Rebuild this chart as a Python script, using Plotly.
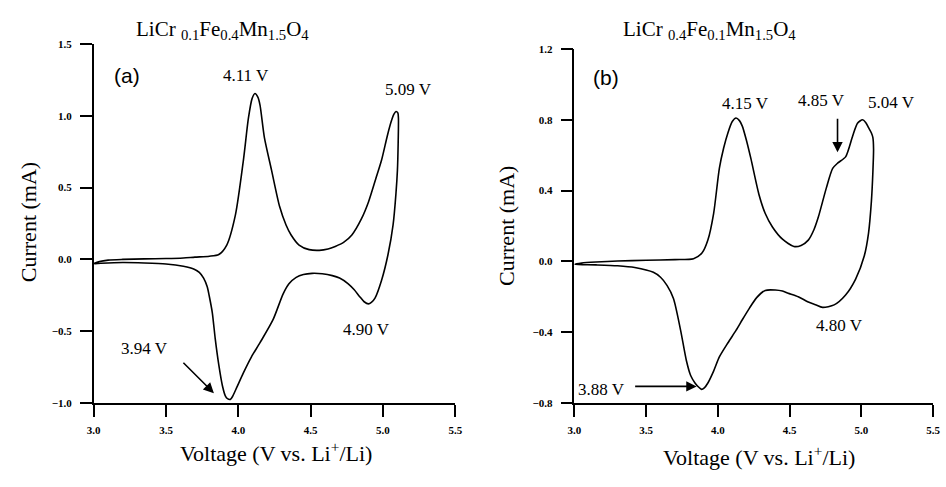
import plotly.graph_objects as go

# Panel (a): LiCr0.1Fe0.4Mn1.5O4 (closed CV loop: anodic sweep then cathodic sweep)
va = [3.00, 3.04, 3.10, 3.20, 3.35, 3.50, 3.62, 3.70, 3.80, 3.865, 3.92, 3.98, 4.035, 4.07, 4.095, 4.115, 4.135, 4.15,
      4.18, 4.23, 4.285, 4.33, 4.365, 4.42, 4.49, 4.56, 4.62, 4.67, 4.73, 4.785, 4.85, 4.90, 4.95, 4.99, 5.03, 5.057,
      5.075, 5.09, 5.103, 5.107,
      5.105, 5.10, 5.09, 5.07, 5.035, 4.99, 4.945, 4.92, 4.90, 4.87, 4.84, 4.80, 4.76, 4.70, 4.65, 4.58, 4.51, 4.45,
      4.40, 4.35, 4.31, 4.24, 4.15, 4.09, 4.035, 3.99, 3.96, 3.945, 3.925, 3.91, 3.89, 3.865, 3.84, 3.82, 3.80, 3.785,
      3.76, 3.73, 3.695, 3.62, 3.50, 3.35, 3.20, 3.05, 3.00]
ia = [-0.03, -0.015, -0.005, 0.000, 0.004, 0.006, 0.010, 0.016, 0.022, 0.034, 0.10, 0.31, 0.69, 0.985, 1.12, 1.155, 1.13, 1.075,
      0.85, 0.62, 0.37, 0.24, 0.17, 0.10, 0.068, 0.063, 0.072, 0.09, 0.12, 0.17, 0.28, 0.40, 0.56, 0.69, 0.86, 0.96,
      1.01, 1.03, 1.02, 0.985,
      0.80, 0.62, 0.46, 0.24, 0.034, -0.147, -0.27, -0.30, -0.31, -0.295, -0.26, -0.21, -0.17, -0.13, -0.113, -0.10, -0.097, -0.105,
      -0.125, -0.17, -0.24, -0.42, -0.58, -0.68, -0.79, -0.89, -0.955, -0.975, -0.97, -0.95, -0.88, -0.735, -0.55, -0.37, -0.26, -0.19,
      -0.13, -0.09, -0.068, -0.048, -0.032, -0.025, -0.022, -0.027, -0.03]

# Panel (b): LiCr0.4Fe0.1Mn1.5O4
vb = [3.00, 3.05, 3.15, 3.30, 3.50, 3.70, 3.83, 3.89, 3.93, 3.97, 4.01, 4.04, 4.07, 4.10, 4.126, 4.15, 4.17, 4.20, 4.23,
      4.286, 4.33, 4.38, 4.45, 4.53, 4.58, 4.63, 4.67, 4.70, 4.756, 4.80, 4.836, 4.89, 4.94, 4.973, 5.008, 5.03, 5.05,
      5.07, 5.08, 5.085,
      5.08, 5.07, 5.05, 5.02, 4.96, 4.89, 4.81, 4.73, 4.68, 4.63, 4.56, 4.49, 4.45, 4.40, 4.33, 4.27, 4.22, 4.17, 4.126,
      4.07, 4.01, 3.97, 3.93, 3.905, 3.886, 3.865, 3.84, 3.81, 3.78, 3.74, 3.69, 3.645, 3.60, 3.55, 3.42, 3.30, 3.15, 3.00]
ib = [-0.017, -0.010, -0.004, 0.002, 0.006, 0.010, 0.015, 0.048, 0.12, 0.27, 0.525, 0.64, 0.727, 0.79, 0.81, 0.795, 0.764, 0.68, 0.58,
      0.378, 0.27, 0.194, 0.125, 0.084, 0.09, 0.12, 0.18, 0.25, 0.415, 0.525, 0.556, 0.59, 0.71, 0.78, 0.80, 0.785, 0.755,
      0.725, 0.70, 0.635,
      0.50, 0.34, 0.16, 0.03, -0.10, -0.19, -0.246, -0.26, -0.245, -0.23, -0.20, -0.18, -0.168, -0.162, -0.164, -0.205, -0.264, -0.33, -0.39,
      -0.46, -0.54, -0.62, -0.687, -0.715, -0.723, -0.71, -0.687, -0.645, -0.56, -0.39, -0.21, -0.136, -0.09, -0.062, -0.035, -0.025, -0.02, -0.017]

xticks = [3.0, 3.5, 4.0, 4.5, 5.0, 5.5]
yticks_a = [-1.0, -0.5, 0.0, 0.5, 1.0, 1.5]
yticks_b = [-0.8, -0.4, 0.0, 0.4, 0.8, 1.2]

title_a = "LiCr <sub>0.1</sub>Fe<sub>0.4</sub>Mn<sub>1.5</sub>O<sub>4</sub>"
title_b = "LiCr <sub>0.4</sub>Fe<sub>0.1</sub>Mn<sub>1.5</sub>O<sub>4</sub>"
xlabel = "Voltage (V vs. Li<sup>+</sup>/Li)"
ylabel = "Current (mA)"

W, H = 946, 487
SERIF = "Liberation Serif, Times New Roman, serif"
SANS = "Liberation Sans, Arial, sans-serif"

def px_x(p):
    return p / W

def px_y(p):
    return 1 - p / H

fig = go.Figure()
line = dict(color="black", width=1.6, shape="spline", smoothing=0.7)
fig.add_trace(go.Scatter(x=va, y=ia, mode="lines", line=line, xaxis="x", yaxis="y", showlegend=False))
fig.add_trace(go.Scatter(x=vb, y=ib, mode="lines", line=line, xaxis="x2", yaxis="y2", showlegend=False))

axis_common = dict(showline=True, linecolor="black", linewidth=1.6, ticks="outside", ticklen=12, tickwidth=1.6,
                   tickcolor="black", showgrid=False, zeroline=False, mirror=False,
                   tickfont=dict(family=SERIF, size=11, color="black", weight="bold"), tickformat=".1f")

fig.update_layout(
    width=W, height=H, margin=dict(l=0, r=0, t=0, b=0),
    plot_bgcolor="white", paper_bgcolor="white",
    xaxis=dict(domain=[px_x(88), px_x(455)], range=[3.0, 5.5], tickvals=xticks, anchor="y",
               ticklabelstandoff=4, **axis_common),
    yaxis=dict(domain=[px_y(407), px_y(39)], range=[-1.0, 1.5], tickvals=yticks_a, anchor="x",
               ticklabelstandoff=6, **axis_common),
    xaxis2=dict(domain=[px_x(576), px_x(940)], range=[3.0, 5.5], tickvals=xticks, anchor="y2",
                ticklabelstandoff=4, **axis_common),
    yaxis2=dict(domain=[px_y(407), px_y(44)], range=[-0.8, 1.2], tickvals=yticks_b, anchor="x2",
                ticklabelstandoff=6, **axis_common),
)

def txt(px, py, s, size=17, family=SERIF, angle=0):
    fig.add_annotation(x=px_x(px), y=px_y(py), xref="paper", yref="paper", text=s, showarrow=False,
                       font=dict(family=family, size=size, color="black"), textangle=angle,
                       xanchor="center", yanchor="middle")

def arrow(px, py, dx, dy):
    fig.add_annotation(x=px_x(px), y=px_y(py), xref="paper", yref="paper", text="", showarrow=True,
                       ax=dx, ay=dy, arrowhead=2, arrowsize=1.3, arrowwidth=1.6, arrowcolor="black")

# titles
txt(219, 25, title_a, size=21)
txt(713, 25, title_b, size=21)
# axis titles
txt(273, 457, xlabel, size=22)
txt(763, 461, xlabel, size=22)
txt(22, 222, ylabel, size=22, angle=-90)
txt(507, 225, ylabel, size=22, angle=-90)
# panel labels
txt(122, 71, "(a)", size=21, family=SANS)
txt(608, 73, "(b)", size=21, family=SANS)
# peak labels (a)
txt(243, 71, "4.11 V", size=17)
txt(408, 86, "5.09 V", size=17)
txt(365, 332, "4.90 V", size=17)
txt(140, 351, "3.94 V", size=17)
arrow(210, 397, -32, -32)
# peak labels (b)
txt(750, 100, "4.15 V", size=17)
txt(827, 97, "4.85 V", size=17)
txt(898, 99, "5.04 V", size=17)
txt(845, 328, "4.80 V", size=17)
txt(603, 393, "3.88 V", size=17)
arrow(843, 150, 0, -35)
arrow(700, 390, -63, 0)

# remove the browser's default 8px page margin so figure pixels map 1:1 onto the window
fig.write_html("out.html", config={"displayModeBar": False},
               post_script="document.body.style.margin='0';document.body.style.overflow='hidden';")
